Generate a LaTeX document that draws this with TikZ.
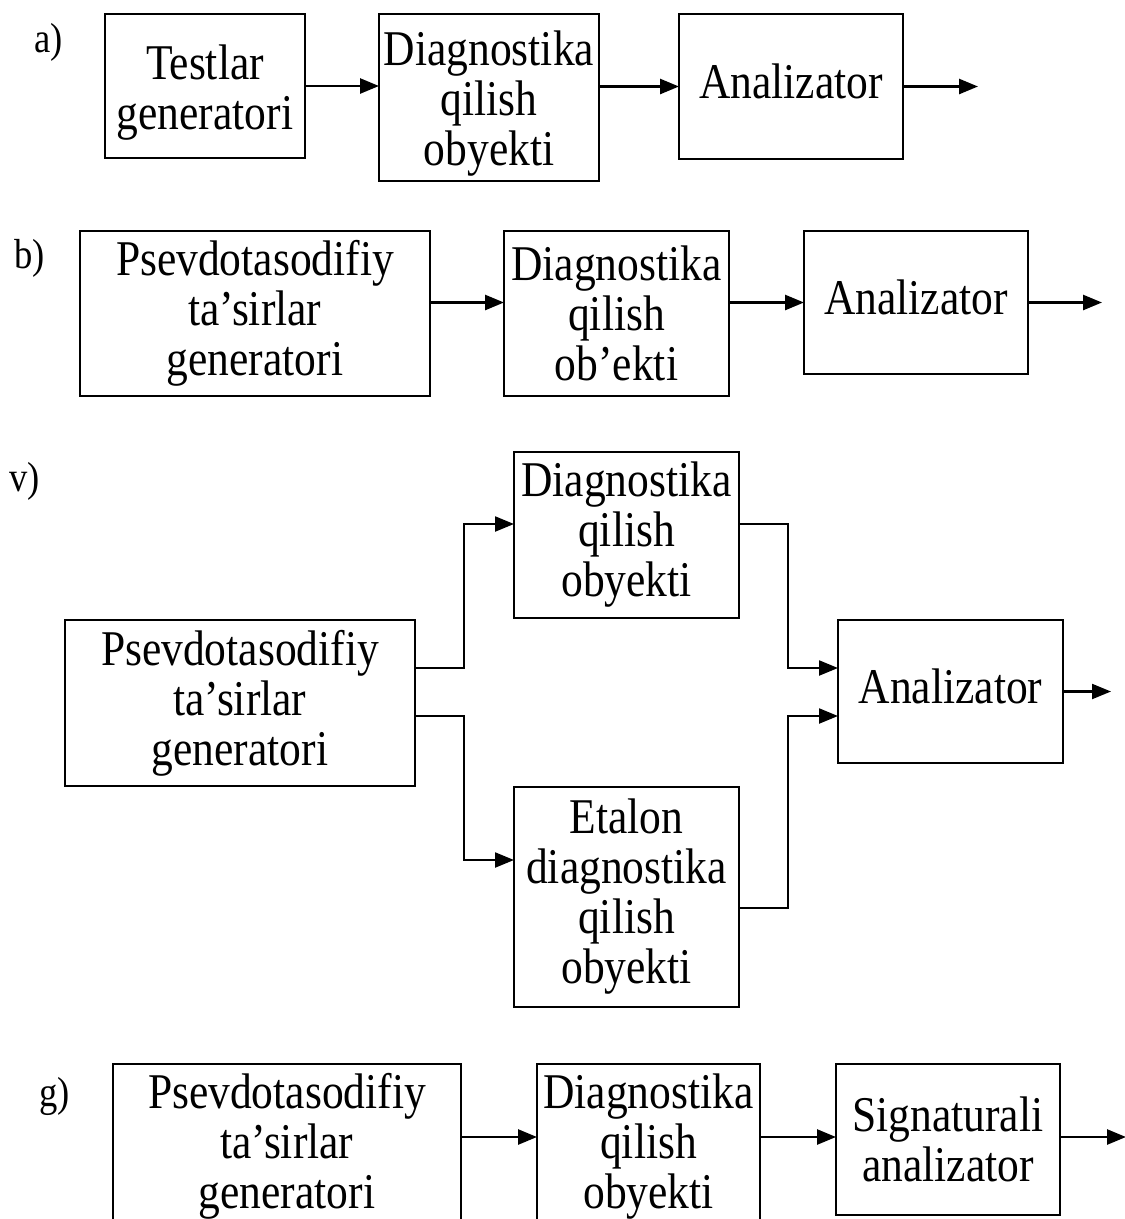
\documentclass[tikz,border=0pt]{standalone}
\usepackage{fontspec}
\setmainfont[FakeStretch=0.87]{Liberation Serif}
\usetikzlibrary{arrows.meta}
\newcommand{\firstlow}{\rule{0pt}{47pt}}
\begin{document}
\begin{tikzpicture}[x=1pt,y=-1pt,
  box/.style={draw,line width=2pt,inner sep=0pt,outer sep=0pt,align=center,font=\fontsize{50}{50}\selectfont},
  one/.style={text depth=10pt},
  tip/.style={-{Triangle[length=19pt,width=15pt]}},
  arr/.style={line width=2.6pt,tip},
  varr/.style={line width=2.2pt,tip},
  lbl/.style={anchor=west,inner sep=0pt,font=\fontsize{42}{42}\selectfont}]
\useasboundingbox (0,0) rectangle (1125,1219);
\clip (0,0) rectangle (1125,1219);
\fill[white] (0,0) rectangle (1125,1219);

% ---- a) ----
\node[lbl] (la) at (34,42) {a)};
\node[box,minimum width=200pt,minimum height=144pt] (a1) at (205,86) {\firstlow Testlar\\generatori};
\node[box,minimum width=220pt,minimum height=167pt] (a2) at (489,97.5) {\firstlow Diagnostika\\qilish\\obyekti};
\node[box,one,minimum width=224pt,minimum height=145pt] (a3) at (791,86.5) {Analizator};
\coordinate (aout) at (978,86.5);
\draw[arr] (a1.east) -- (a2.west |- a1.east);
\draw[arr] (a2.east |- a3.west) -- (a3.west);
\draw[arr] (a3.east) -- (aout);

% ---- b) ----
\node[lbl] (lb) at (14,258) {b)};
\node[box,minimum width=350pt,minimum height=165pt] (b1) at (255,313.5) {Psevdotasodifiy\\ta’sirlar\\generatori};
\node[box,minimum width=225pt,minimum height=165pt] (b2) at (616.5,313.5) {Diagnostika\\qilish\\ob’ekti};
\node[box,one,minimum width=224pt,minimum height=143pt] (b3) at (916,302.5) {Analizator};
\coordinate (bout) at (1102,302.5);
\draw[arr] (b1.east |- b3.west) -- (b2.west |- b3.west);
\draw[arr] (b2.east |- b3.west) -- (b3.west);
\draw[arr] (b3.east) -- (bout);

% ---- v) ----
\node[lbl] (lv) at (9,481) {v)};
\node[box,minimum width=350pt,minimum height=166pt] (v1) at (240,703) {Psevdotasodifiy\\ta’sirlar\\generatori};
\node[box,minimum width=225pt,minimum height=166pt] (v2) at (626.5,535) {Diagnostika\\qilish\\obyekti};
\node[box,minimum width=225pt,minimum height=220pt] (v3) at (626.5,897) {Etalon\\diagnostika\\qilish\\obyekti};
\node[box,one,minimum width=225pt,minimum height=143pt] (v4) at (950.5,691.5) {Analizator};
\coordinate (vout) at (1111,691.5);
\draw[varr] (v1.east |- 0,668) -- (464,668) -- (464,524) -- (v2.west |- 0,524);
\draw[varr] (v1.east |- 0,716) -- (464,716) -- (464,860) -- (v3.west |- 0,860);
\draw[varr] (v2.east |- 0,524) -- (788,524) -- (788,668) -- (v4.west |- 0,668);
\draw[varr] (v3.east |- 0,908) -- (788,908) -- (788,716) -- (v4.west |- 0,716);
\draw[varr] (v4.east) -- (vout);

% ---- g) ----
\node[lbl] (lg) at (39,1096) {g)};
\node[box,minimum width=348pt,minimum height=165pt] (g1) at (287,1146.5) {Psevdotasodifiy\\ta’sirlar\\generatori};
\node[box,minimum width=223pt,minimum height=165pt] (g2) at (648.5,1146.5) {Diagnostika\\qilish\\obyekti};
\node[box,minimum width=224pt,minimum height=151pt] (g3) at (948,1139.5) {Signaturali\\analizator};
\coordinate (gout) at (1126,1137);
\draw[arr] (g1.east |- 0,1137) -- (g2.west |- 0,1137);
\draw[arr] (g2.east |- 0,1137) -- (g3.west |- 0,1137);
\draw[arr] (g3.east |- 0,1137) -- (gout);
\end{tikzpicture}
\end{document}
